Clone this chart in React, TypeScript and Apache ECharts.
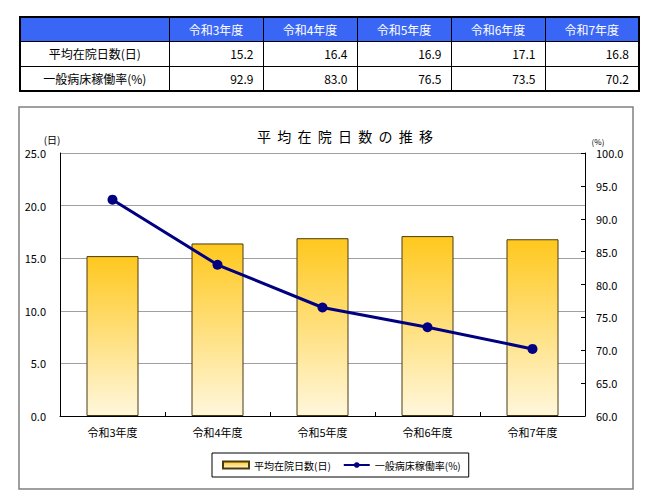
import React, { useEffect, useRef } from "react";
import * as echarts from "echarts";

const categories = ["令和3年度", "令和4年度", "令和5年度", "令和6年度", "令和7年度"];
const avgStayDays = [15.2, 16.4, 16.9, 17.1, 16.8];
const bedOccupancy = [92.9, 83.0, 76.5, 73.5, 70.2];
const seriesNames = ["平均在院日数(日)", "一般病床稼働率(%)"];
const chartTitle = "平  均  在  院  日  数  の  推  移";

const FONT = "'Noto Sans CJK JP', 'Noto Sans', sans-serif";

export default function App() {
  const ref = useRef<HTMLDivElement>(null);

  useEffect(() => {
    if (!ref.current) return;
    const chart = echarts.init(ref.current, null, { renderer: "svg" });
    chart.setOption({
      animation: false,
      backgroundColor: "transparent",
      textStyle: { fontFamily: FONT, color: "#000" },
      title: {
        text: chartTitle,
        left: 340,
        top: 124,
        textAlign: "center",
        textStyle: { fontSize: 14, fontWeight: "normal", color: "#000", fontFamily: FONT },
      },
      graphic: [
        {
          type: "rect",
          shape: { x: 19, y: 107, width: 614, height: 382 },
          style: { fill: "none", stroke: "#808080", lineWidth: 1.5 },
          silent: true,
        },
        {
          type: "text",
          x: 52,
          y: 139,
          style: { text: "(日)", fontSize: 10, fontFamily: FONT, fill: "#000", align: "center", verticalAlign: "middle" },
        },
        {
          type: "text",
          x: 598,
          y: 141,
          style: { text: "(%)", fontSize: 8, fontFamily: FONT, fill: "#000", align: "center", verticalAlign: "middle" },
        },
      ],
      legend: {
        left: 212,
        top: 453,
        padding: [7, 8, 7, 10],
        itemGap: 12,
        borderColor: "#000",
        borderWidth: 1,
        itemWidth: 26,
        itemHeight: 7,
        textStyle: { fontSize: 10, fontFamily: FONT, color: "#000" },
        data: [
          { name: seriesNames[0], icon: "rect" },
          { name: seriesNames[1] },
        ],
      },
      grid: { left: 60, right: 65, top: 153, bottom: 87, containLabel: false },
      xAxis: {
        type: "category",
        data: categories,
        axisLine: { lineStyle: { color: "#000", width: 1 } },
        axisTick: { show: true, inside: true, length: 4, lineStyle: { color: "#000" } },
        axisLabel: { fontSize: 11, fontFamily: FONT, color: "#000", margin: 10 },
      },
      yAxis: [
        {
          type: "value",
          min: 0,
          max: 25,
          interval: 5,
          axisLine: { show: true, lineStyle: { color: "#000", width: 1 } },
          axisTick: { show: false },
          splitLine: { lineStyle: { color: "#a0a0a0", width: 1 } },
          axisLabel: {
            fontSize: 11,
            fontFamily: FONT,
            color: "#000",
            margin: 14,
            formatter: (v: number) => v.toFixed(1),
          },
        },
        {
          type: "value",
          min: 60,
          max: 100,
          interval: 5,
          position: "right",
          axisLine: { show: true, lineStyle: { color: "#000", width: 1 } },
          axisTick: { show: true, inside: true, length: 4, lineStyle: { color: "#000" } },
          splitLine: { show: false },
          axisLabel: {
            fontSize: 11,
            fontFamily: FONT,
            color: "#000",
            margin: 11,
            formatter: (v: number) => v.toFixed(1),
          },
        },
      ],
      series: [
        {
          name: seriesNames[0],
          type: "bar",
          yAxisIndex: 0,
          data: avgStayDays,
          barWidth: 52,
          itemStyle: {
            color: new echarts.graphic.LinearGradient(0, 0, 0, 1, [
              { offset: 0, color: "#FFC81E" },
              { offset: 1, color: "#FFF7DC" },
            ]),
            borderColor: "#4a3a10",
            borderWidth: 1,
          },
        },
        {
          name: seriesNames[1],
          type: "line",
          yAxisIndex: 1,
          data: bedOccupancy,
          symbol: "circle",
          symbolSize: 10,
          lineStyle: { color: "#000080", width: 3 },
          itemStyle: { color: "#000080" },
        },
      ],
    });
    return () => chart.dispose();
  }, []);

  const cellBase: React.CSSProperties = {
    border: "1px solid #000",
    fontSize: 12,
    fontFamily: FONT,
    padding: 0,
    overflow: "hidden",
    whiteSpace: "nowrap",
  };

  const rows: { label: string; values: number[] }[] = [
    { label: "平均在院日数(日)", values: avgStayDays },
    { label: "一般病床稼働率(%)", values: bedOccupancy },
  ];

  return (
    <div style={{ position: "absolute", left: 0, top: 0, width: 650, height: 503, background: "#fff" }}>
      <div ref={ref} style={{ position: "absolute", left: 0, top: 0, width: 650, height: 503 }} />
      <table
        style={{
          position: "absolute",
          left: 19,
          top: 16,
          width: 619,
          borderCollapse: "collapse",
          tableLayout: "fixed",
          border: "2px solid #000",
        }}
      >
        <colgroup>
          <col style={{ width: 149 }} />
          {categories.map((c) => (
            <col key={c} style={{ width: 94 }} />
          ))}
        </colgroup>
        <tbody>
          <tr style={{ height: 24 }}>
            <td style={{ ...cellBase, background: "#3a66f5" }} />
            {categories.map((c) => (
              <td key={c} style={{ ...cellBase, background: "#3a66f5", color: "#fff", textAlign: "center" }}>
                {c}
              </td>
            ))}
          </tr>
          {rows.map((r) => (
            <tr key={r.label} style={{ height: 25 }}>
              <td style={{ ...cellBase, textAlign: "center", color: "#000" }}>{r.label}</td>
              {r.values.map((v, i) => (
                <td key={i} style={{ ...cellBase, textAlign: "right", paddingRight: 9, color: "#000" }}>
                  {v.toFixed(1)}
                </td>
              ))}
            </tr>
          ))}
        </tbody>
      </table>
    </div>
  );
}
